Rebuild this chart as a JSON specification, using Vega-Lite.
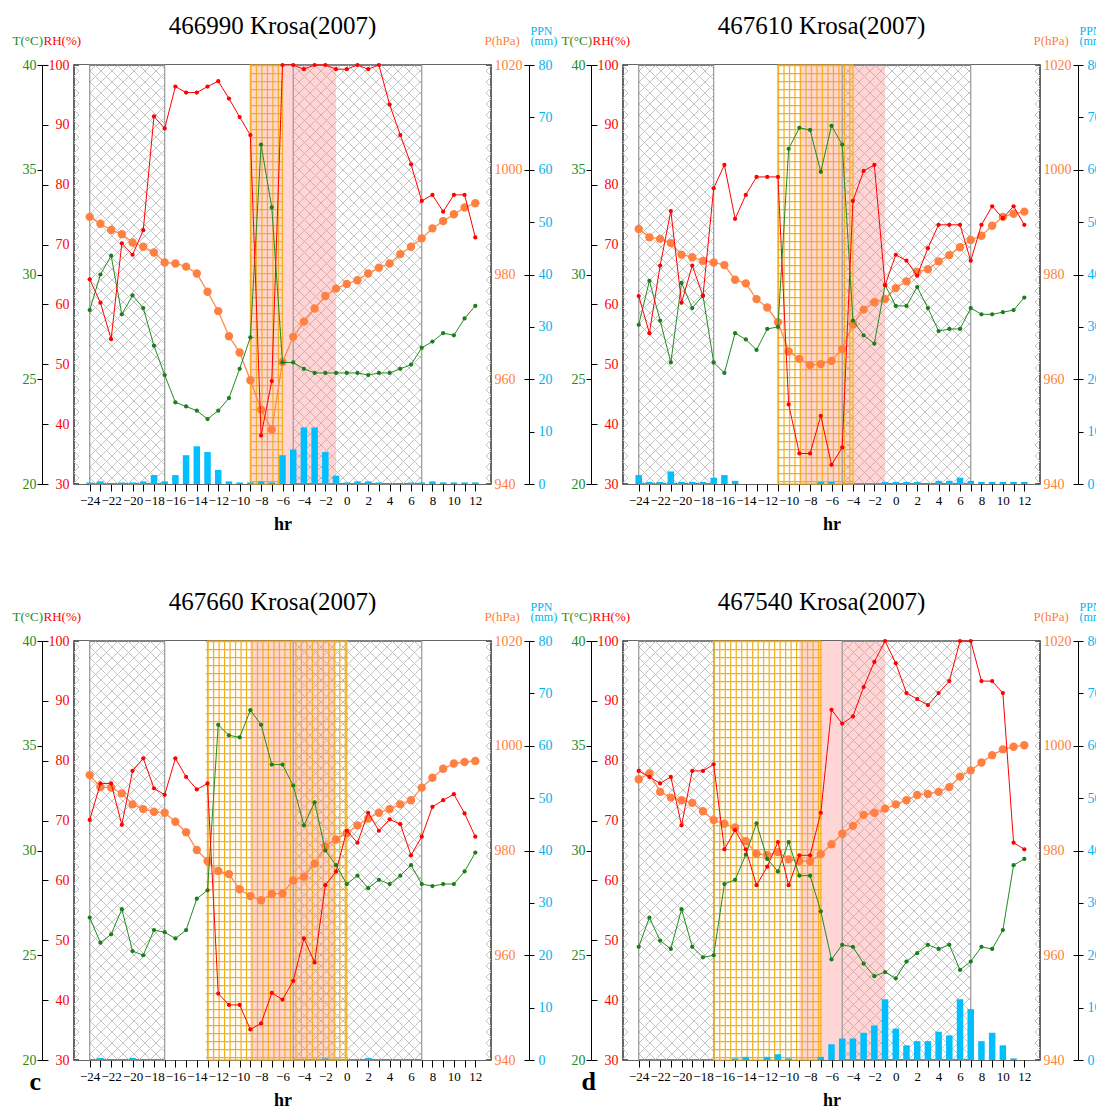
{
"$schema": "https://vega.github.io/schema/vega-lite/v6.json",
"padding": {"left": 11, "top": 12, "right": 0, "bottom": 0},
"background": "white",
"bounds": "flush",
"columns": 2,
"spacing": {"row": 157, "column": 132},
"datasets": {
"zones": [
{"kind":"clear","start":-25,"end":-24},{"kind":"clear","start":-17,"end":-5},{"kind":"clear","start":7,"end":13},
{"kind":"hatch","start":-24,"end":-17},{"kind":"hatch","start":-5,"end":7},{"kind":"pink","start":-9,"end":-1}],
"a": [
{"hr":-24,"T":28.3,"RH":64.2,"P":991.0,"PPN":0.3},{"hr":-23,"T":30.0,"RH":60.3,"P":989.7,"PPN":0.5},{"hr":-22,"T":30.9,"RH":54.2,"P":988.5,"PPN":0},{"hr":-21,"T":28.1,"RH":70.2,"P":987.7,"PPN":0.3},{"hr":-20,"T":29.0,"RH":68.3,"P":986.1,"PPN":0.3},{"hr":-19,"T":28.4,"RH":72.4,"P":985.3,"PPN":0.5},{"hr":-18,"T":26.6,"RH":91.4,"P":984.2,"PPN":1.7},{"hr":-17,"T":25.2,"RH":89.4,"P":982.3,"PPN":0.5},{"hr":-16,"T":23.9,"RH":96.4,"P":982.1,"PPN":1.7},{"hr":-15,"T":23.7,"RH":95.4,"P":981.5,"PPN":5.5},{"hr":-14,"T":23.5,"RH":95.4,"P":980.2,"PPN":7.2},{"hr":-13,"T":23.1,"RH":96.4,"P":976.7,"PPN":6.1},{"hr":-12,"T":23.5,"RH":97.3,"P":973.0,"PPN":2.7},{"hr":-11,"T":24.1,"RH":94.4,"P":968.2,"PPN":0.5},{"hr":-10,"T":25.5,"RH":91.3,"P":965.1,"PPN":0.3},{"hr":-9,"T":27.0,"RH":88.3,"P":959.8,"PPN":0.3},{"hr":-8,"T":36.2,"RH":38.1,"P":954.2,"PPN":0.5},{"hr":-7,"T":33.2,"RH":47.2,"P":950.4,"PPN":0.3},{"hr":-6,"T":25.8,"RH":100,"P":963.3,"PPN":5.5},{"hr":-5,"T":25.8,"RH":100,"P":968.1,"PPN":6.6},{"hr":-4,"T":25.5,"RH":99.3,"P":971.0,"PPN":10.8},{"hr":-3,"T":25.3,"RH":100,"P":973.5,"PPN":10.8},{"hr":-2,"T":25.3,"RH":100,"P":975.9,"PPN":6.1},{"hr":-1,"T":25.3,"RH":99.3,"P":977.3,"PPN":1.6},{"hr":0,"T":25.3,"RH":99.3,"P":978.2,"PPN":0.3},{"hr":1,"T":25.3,"RH":100,"P":978.9,"PPN":0.5},{"hr":2,"T":25.2,"RH":99.3,"P":980.2,"PPN":0.5},{"hr":3,"T":25.3,"RH":100,"P":981.3,"PPN":0.3},{"hr":4,"T":25.3,"RH":93.4,"P":982.1,"PPN":0},{"hr":5,"T":25.5,"RH":88.3,"P":983.9,"PPN":0},{"hr":6,"T":25.7,"RH":83.4,"P":985.3,"PPN":0.3},{"hr":7,"T":26.5,"RH":77.3,"P":986.9,"PPN":0.3},{"hr":8,"T":26.8,"RH":78.3,"P":988.8,"PPN":0.5},{"hr":9,"T":27.2,"RH":75.5,"P":990.2,"PPN":0.3},{"hr":10,"T":27.1,"RH":78.3,"P":991.5,"PPN":0.3},{"hr":11,"T":27.9,"RH":78.3,"P":992.8,"PPN":0.3},{"hr":12,"T":28.5,"RH":71.2,"P":993.6,"PPN":0.3}],
"b": [
{"hr":-24,"T":27.6,"RH":61.4,"P":988.7,"PPN":1.7},{"hr":-23,"T":29.7,"RH":55.2,"P":987.1,"PPN":0.4},{"hr":-22,"T":27.8,"RH":66.5,"P":986.8,"PPN":0.4},{"hr":-21,"T":25.8,"RH":75.6,"P":986.0,"PPN":2.4},{"hr":-20,"T":29.6,"RH":60.3,"P":983.8,"PPN":0.4},{"hr":-19,"T":28.4,"RH":66.5,"P":983.3,"PPN":0.4},{"hr":-18,"T":29.0,"RH":61.4,"P":982.6,"PPN":0.4},{"hr":-17,"T":25.8,"RH":79.4,"P":982.3,"PPN":1.2},{"hr":-16,"T":25.3,"RH":83.3,"P":981.8,"PPN":1.7},{"hr":-15,"T":27.2,"RH":74.3,"P":979.0,"PPN":0.6},{"hr":-14,"T":26.9,"RH":78.3,"P":978.3,"PPN":0},{"hr":-13,"T":26.4,"RH":81.3,"P":975.3,"PPN":0},{"hr":-12,"T":27.4,"RH":81.3,"P":973.7,"PPN":0},{"hr":-11,"T":27.5,"RH":81.3,"P":970.9,"PPN":0},{"hr":-10,"T":36.0,"RH":43.3,"P":965.3,"PPN":0},{"hr":-9,"T":37.0,"RH":35.1,"P":963.9,"PPN":0},{"hr":-8,"T":36.9,"RH":35.1,"P":962.7,"PPN":0},{"hr":-7,"T":34.9,"RH":41.4,"P":962.9,"PPN":0.4},{"hr":-6,"T":37.1,"RH":33.2,"P":963.5,"PPN":0.4},{"hr":-5,"T":36.2,"RH":36.1,"P":965.8,"PPN":0},{"hr":-4,"T":27.8,"RH":77.3,"P":970.5,"PPN":0},{"hr":-3,"T":27.1,"RH":82.3,"P":973.3,"PPN":0},{"hr":-2,"T":26.7,"RH":83.3,"P":974.7,"PPN":0},{"hr":-1,"T":29.5,"RH":63.2,"P":975.3,"PPN":0.4},{"hr":0,"T":28.5,"RH":68.3,"P":977.4,"PPN":0.4},{"hr":1,"T":28.5,"RH":67.3,"P":978.7,"PPN":0.4},{"hr":2,"T":29.4,"RH":64.8,"P":980.5,"PPN":0.4},{"hr":3,"T":28.4,"RH":69.4,"P":981.0,"PPN":0},{"hr":4,"T":27.3,"RH":73.3,"P":982.5,"PPN":0.6},{"hr":5,"T":27.4,"RH":73.3,"P":983.7,"PPN":0.6},{"hr":6,"T":27.4,"RH":73.3,"P":985.2,"PPN":1.2},{"hr":7,"T":28.4,"RH":67.3,"P":986.6,"PPN":0.6},{"hr":8,"T":28.1,"RH":73.3,"P":987.4,"PPN":0.4},{"hr":9,"T":28.1,"RH":76.4,"P":989.3,"PPN":0.4},{"hr":10,"T":28.2,"RH":74.4,"P":991.0,"PPN":0.4},{"hr":11,"T":28.3,"RH":76.4,"P":991.6,"PPN":0.4},{"hr":12,"T":28.9,"RH":73.3,"P":992.0,"PPN":0.4}],
"c": [
{"hr":-24,"T":26.8,"RH":70.1,"P":994.4,"PPN":0},{"hr":-23,"T":25.6,"RH":76.2,"P":992.1,"PPN":0.4},{"hr":-22,"T":26.0,"RH":76.2,"P":992.0,"PPN":0},{"hr":-21,"T":27.2,"RH":69.3,"P":990.9,"PPN":0},{"hr":-20,"T":25.2,"RH":78.3,"P":988.8,"PPN":0.4},{"hr":-19,"T":25.0,"RH":80.4,"P":987.9,"PPN":0},{"hr":-18,"T":26.2,"RH":75.4,"P":987.4,"PPN":0},{"hr":-17,"T":26.1,"RH":74.3,"P":987.2,"PPN":0},{"hr":-16,"T":25.8,"RH":80.4,"P":985.5,"PPN":0},{"hr":-15,"T":26.2,"RH":77.3,"P":983.5,"PPN":0},{"hr":-14,"T":27.7,"RH":75.2,"P":980.1,"PPN":0},{"hr":-13,"T":28.1,"RH":76.2,"P":978.0,"PPN":0},{"hr":-12,"T":36.0,"RH":41.1,"P":976.1,"PPN":0},{"hr":-11,"T":35.5,"RH":39.2,"P":975.5,"PPN":0},{"hr":-10,"T":35.4,"RH":39.2,"P":972.6,"PPN":0},{"hr":-9,"T":36.7,"RH":35.1,"P":971.3,"PPN":0},{"hr":-8,"T":36.0,"RH":36.1,"P":970.5,"PPN":0},{"hr":-7,"T":34.1,"RH":41.2,"P":971.7,"PPN":0},{"hr":-6,"T":34.1,"RH":40.1,"P":971.8,"PPN":0},{"hr":-5,"T":33.1,"RH":43.2,"P":974.3,"PPN":0},{"hr":-4,"T":31.2,"RH":50.3,"P":975.0,"PPN":0},{"hr":-3,"T":32.3,"RH":46.3,"P":977.5,"PPN":0},{"hr":-2,"T":30.0,"RH":59.2,"P":980.8,"PPN":0.3},{"hr":-1,"T":29.3,"RH":61.5,"P":982.1,"PPN":0},{"hr":0,"T":28.4,"RH":68.3,"P":983.3,"PPN":0},{"hr":1,"T":28.8,"RH":66.3,"P":984.8,"PPN":0},{"hr":2,"T":28.2,"RH":71.3,"P":986.1,"PPN":0.4},{"hr":3,"T":28.6,"RH":68.3,"P":987.2,"PPN":0.2},{"hr":4,"T":28.4,"RH":70.2,"P":987.9,"PPN":0},{"hr":5,"T":28.8,"RH":69.4,"P":988.8,"PPN":0.2},{"hr":6,"T":29.3,"RH":64.2,"P":989.6,"PPN":0},{"hr":7,"T":28.4,"RH":67.3,"P":992.0,"PPN":0},{"hr":8,"T":28.3,"RH":72.3,"P":993.9,"PPN":0},{"hr":9,"T":28.4,"RH":73.4,"P":995.6,"PPN":0},{"hr":10,"T":28.4,"RH":74.4,"P":996.6,"PPN":0},{"hr":11,"T":29.0,"RH":71.2,"P":996.9,"PPN":0},{"hr":12,"T":29.9,"RH":67.3,"P":997.1,"PPN":0}],
"d": [
{"hr":-24,"T":25.4,"RH":78.3,"P":993.6,"PPN":0},{"hr":-23,"T":26.8,"RH":77.3,"P":994.7,"PPN":0},{"hr":-22,"T":25.7,"RH":76.2,"P":991.2,"PPN":0},{"hr":-21,"T":25.3,"RH":77.3,"P":990.1,"PPN":0},{"hr":-20,"T":27.2,"RH":69.2,"P":989.6,"PPN":0},{"hr":-19,"T":25.4,"RH":78.3,"P":989.1,"PPN":0},{"hr":-18,"T":24.9,"RH":78.3,"P":987.5,"PPN":0},{"hr":-17,"T":25.0,"RH":79.4,"P":985.8,"PPN":0},{"hr":-16,"T":28.4,"RH":65.2,"P":985.1,"PPN":0},{"hr":-15,"T":28.6,"RH":68.4,"P":984.4,"PPN":0.3},{"hr":-14,"T":29.8,"RH":65.2,"P":981.8,"PPN":0.6},{"hr":-13,"T":31.3,"RH":59.2,"P":979.4,"PPN":0},{"hr":-12,"T":29.6,"RH":62.3,"P":979.1,"PPN":0.6},{"hr":-11,"T":29.0,"RH":66.4,"P":979.7,"PPN":1.1},{"hr":-10,"T":30.4,"RH":59.2,"P":978.3,"PPN":0.3},{"hr":-9,"T":28.8,"RH":64.2,"P":978.0,"PPN":0},{"hr":-8,"T":28.8,"RH":64.2,"P":977.9,"PPN":0},{"hr":-7,"T":27.1,"RH":71.3,"P":979.3,"PPN":0.6},{"hr":-6,"T":24.8,"RH":88.5,"P":981.2,"PPN":3.0},{"hr":-5,"T":25.5,"RH":86.2,"P":983.2,"PPN":4.1},{"hr":-4,"T":25.4,"RH":87.4,"P":984.7,"PPN":4.1},{"hr":-3,"T":24.6,"RH":92.3,"P":986.8,"PPN":5.2},{"hr":-2,"T":24.0,"RH":96.5,"P":987.2,"PPN":6.6},{"hr":-1,"T":24.2,"RH":100,"P":988.0,"PPN":11.6},{"hr":0,"T":23.9,"RH":96.3,"P":988.8,"PPN":6.0},{"hr":1,"T":24.7,"RH":91.3,"P":989.6,"PPN":2.8},{"hr":2,"T":25.1,"RH":90.3,"P":990.6,"PPN":3.6},{"hr":3,"T":25.5,"RH":89.3,"P":990.8,"PPN":3.6},{"hr":4,"T":25.3,"RH":91.3,"P":991.2,"PPN":5.4},{"hr":5,"T":25.5,"RH":93.3,"P":992.1,"PPN":4.7},{"hr":6,"T":24.3,"RH":100,"P":994.1,"PPN":11.6},{"hr":7,"T":24.7,"RH":100,"P":995.3,"PPN":9.7},{"hr":8,"T":25.4,"RH":93.3,"P":996.8,"PPN":3.6},{"hr":9,"T":25.3,"RH":93.3,"P":998.2,"PPN":5.2},{"hr":10,"T":26.2,"RH":91.3,"P":999.3,"PPN":2.8},{"hr":11,"T":29.3,"RH":66.3,"P":999.8,"PPN":0.3},{"hr":12,"T":29.6,"RH":65.2,"P":1000.1,"PPN":0}]
},
"concat": [
{"width": 417, "height": 419,
"layer": [
{"data": {"values": [{}]}, "mark": {"type": "point", "style": "hatch", "size": 4, "clip": true, "filled": false, "color": "#c4c4c4", "strokeWidth": 1, "opacity": 1}, "encoding": {"x": {"datum": -6, "type": "quantitative", "scale": {"domain": [-25, 13], "nice": false, "zero": false}, "axis": null}}},
{"data": {"name": "zones"}, "transform": [{"filter": "datum.kind == 'clear'"}], "mark": {"type": "rect", "color": "white", "opacity": 1}, "encoding": {"x": {"field": "start", "type": "quantitative", "scale": {"domain": [-25, 13], "nice": false, "zero": false}, "axis": null}, "x2": {"field": "end"}}},
{"data": {"name": "zones"}, "transform": [{"filter": "datum.kind == 'pink'"}], "mark": {"type": "rect", "color": "#ff8080", "opacity": 0.33}, "encoding": {"x": {"field": "start", "type": "quantitative", "scale": {"domain": [-25, 13], "nice": false, "zero": false}, "axis": null}, "x2": {"field": "end"}}},
{"data": {"values": [{"start": -9, "end": -6, "mid": -7.5}]}, "mark": {"type": "rule", "color": "#f2b01e", "strokeWidth": 440, "strokeDash": [1.2, 4.286], "clip": true}, "encoding": {"x": {"field": "start", "type": "quantitative", "scale": {"domain": [-25, 13], "nice": false, "zero": false}, "axis": {"orient": "top", "labels": false, "ticks": false, "domain": false, "title": "466990 Krosa(2007)", "titleFontSize": 25, "titleFontWeight": "normal", "titleColor": "black", "titleX": 198, "titleY": -32, "titleAlign": "center", "titleBaseline": "alphabetic", "titleAngle": 0}}, "x2": {"field": "end"}, "y": {"datum": 0, "type": "quantitative", "scale": {"domain": [-1, 1]}, "axis": null}}},
{"data": {"values": [{"start": -9, "end": -6, "mid": -7.5}]}, "mark": {"type": "rule", "color": "#f2b01e", "strokeWidth": 32.9, "strokeDash": [1.2, 6.8]}, "encoding": {"x": {"field": "mid", "type": "quantitative", "scale": {"domain": [-25, 13], "nice": false, "zero": false}, "axis": null}}},
{"data": {"name": "zones"}, "transform": [{"filter": "datum.kind == 'hatch'"}], "mark": {"type": "rect", "filled": false, "color": "#999999", "strokeWidth": 1.2}, "encoding": {"x": {"field": "start", "type": "quantitative", "scale": {"domain": [-25, 13], "nice": false, "zero": false}, "axis": null}, "x2": {"field": "end"}}},
{"data": {"values": [{"start": -9, "end": -6}]}, "mark": {"type": "rect", "filled": false, "color": "#f2b01e", "strokeWidth": 1.2}, "encoding": {"x": {"field": "start", "type": "quantitative", "scale": {"domain": [-25, 13], "nice": false, "zero": false}, "axis": null}, "x2": {"field": "end"}}},
{"data": {"name": "a"}, "mark": {"type": "bar", "color": "#00bfff", "size": 6.5}, "encoding": {"x": {"field": "hr", "type": "quantitative", "scale": {"domain": [-25, 13], "nice": false, "zero": false}, "axis": {"orient": "bottom", "values": [-24,-23,-22,-21,-20,-19,-18,-17,-16,-15,-14,-13,-12,-11,-10,-9,-8,-7,-6,-5,-4,-3,-2,-1,0,1,2,3,4,5,6,7,8,9,10,11,12], "format": "d", "labelExpr": "datum.value % 2 ? '' : datum.label", "labelOverlap": false, "labelFlush": false, "tickSize": 7, "domain": false, "labelFontSize": 13, "labelPadding": 3, "title": "hr", "titleFontSize": 18, "titleFontWeight": "bold", "titlePadding": 8}}, "y": {"field": "PPN", "type": "quantitative", "scale": {"domain": [0, 80]}, "axis": {"orient": "right", "offset": 38, "values": [0,10,20,30,40,50,60,70,80], "format": "d", "tickSize": 5, "labelColor": "#00b4f0", "labelPadding": 4, "title": ["PPN", "(mm)"], "titleColor": "#00b4f0", "titleAngle": 0, "titleAlign": "left", "titleBaseline": "alphabetic", "titleX": 1, "titleY": -31, "titleFontSize": 12, "titleLineHeight": 10}}}},
{"data": {"name": "a"}, "mark": {"type": "line", "color": "#ff8a4c", "strokeWidth": 1.3, "point": {"filled": true, "size": 70, "color": "#ff8040", "opacity": 1}}, "encoding": {"x": {"field": "hr", "type": "quantitative", "scale": {"domain": [-25, 13], "nice": false, "zero": false}, "axis": null}, "y": {"field": "P", "type": "quantitative", "scale": {"domain": [940, 1020]}, "axis": {"orient": "right", "offset": 33, "values": [940,960,980,1000,1020], "format": "d", "tickSize": 5, "domain": false, "labelColor": "#ff7f3a", "labelPadding": -35, "title": "P(hPa)", "titleColor": "#ff7f3a", "titleAngle": 0, "titleAlign": "left", "titleBaseline": "alphabetic", "titleX": -40, "titleY": -21, "titleFontSize": 13}}}},
{"data": {"name": "a"}, "mark": {"type": "line", "color": "#228b22", "strokeWidth": 1, "point": {"filled": true, "size": 18, "color": "#1a7f1a", "opacity": 1}}, "encoding": {"x": {"field": "hr", "type": "quantitative", "scale": {"domain": [-25, 13], "nice": false, "zero": false}, "axis": null}, "y": {"field": "T", "type": "quantitative", "scale": {"domain": [20, 40]}, "axis": {"orient": "left", "offset": 32, "values": [20,25,30,35,40], "format": "d", "tickSize": 5, "labelColor": "#228b22", "labelPadding": 1, "title": "T(°C)", "titleColor": "#228b22", "titleAngle": 0, "titleAlign": "left", "titleBaseline": "alphabetic", "titleX": -30, "titleY": -21, "titleFontSize": 13}}}},
{"data": {"name": "a"}, "mark": {"type": "line", "color": "#ff0000", "strokeWidth": 1, "point": {"filled": true, "size": 18, "color": "#ff0000", "opacity": 1}}, "encoding": {"x": {"field": "hr", "type": "quantitative", "scale": {"domain": [-25, 13], "nice": false, "zero": false}, "axis": null}, "y": {"field": "RH", "type": "quantitative", "scale": {"domain": [30, 100]}, "axis": {"orient": "left", "offset": 26, "values": [30,40,50,60,70,80,90,100], "format": "d", "tickSize": 6, "domain": false, "labelColor": "#ff0000", "labelPadding": -27, "title": "RH(%)", "titleColor": "#ff0000", "titleAngle": 0, "titleAlign": "left", "titleBaseline": "alphabetic", "titleX": -5, "titleY": -21, "titleFontSize": 13}}}}
],
"resolve": {"scale": {"y": "independent"}, "axis": {"x": "independent", "y": "independent"}}},
{"width": 417, "height": 419,
"layer": [
{"data": {"values": [{}]}, "mark": {"type": "point", "style": "hatch", "size": 4, "clip": true, "filled": false, "color": "#c4c4c4", "strokeWidth": 1, "opacity": 1}, "encoding": {"x": {"datum": -6, "type": "quantitative", "scale": {"domain": [-25, 13], "nice": false, "zero": false}, "axis": null}}},
{"data": {"name": "zones"}, "transform": [{"filter": "datum.kind == 'clear'"}], "mark": {"type": "rect", "color": "white", "opacity": 1}, "encoding": {"x": {"field": "start", "type": "quantitative", "scale": {"domain": [-25, 13], "nice": false, "zero": false}, "axis": null}, "x2": {"field": "end"}}},
{"data": {"name": "zones"}, "transform": [{"filter": "datum.kind == 'pink'"}], "mark": {"type": "rect", "color": "#ff8080", "opacity": 0.33}, "encoding": {"x": {"field": "start", "type": "quantitative", "scale": {"domain": [-25, 13], "nice": false, "zero": false}, "axis": null}, "x2": {"field": "end"}}},
{"data": {"values": [{"start": -11, "end": -4, "mid": -7.5}]}, "mark": {"type": "rule", "color": "#f2b01e", "strokeWidth": 440, "strokeDash": [1.2, 4.286], "clip": true}, "encoding": {"x": {"field": "start", "type": "quantitative", "scale": {"domain": [-25, 13], "nice": false, "zero": false}, "axis": {"orient": "top", "labels": false, "ticks": false, "domain": false, "title": "467610 Krosa(2007)", "titleFontSize": 25, "titleFontWeight": "normal", "titleColor": "black", "titleX": 198, "titleY": -32, "titleAlign": "center", "titleBaseline": "alphabetic", "titleAngle": 0}}, "x2": {"field": "end"}, "y": {"datum": 0, "type": "quantitative", "scale": {"domain": [-1, 1]}, "axis": null}}},
{"data": {"values": [{"start": -11, "end": -4, "mid": -7.5}]}, "mark": {"type": "rule", "color": "#f2b01e", "strokeWidth": 76.8, "strokeDash": [1.2, 6.8]}, "encoding": {"x": {"field": "mid", "type": "quantitative", "scale": {"domain": [-25, 13], "nice": false, "zero": false}, "axis": null}}},
{"data": {"name": "zones"}, "transform": [{"filter": "datum.kind == 'hatch'"}], "mark": {"type": "rect", "filled": false, "color": "#999999", "strokeWidth": 1.2}, "encoding": {"x": {"field": "start", "type": "quantitative", "scale": {"domain": [-25, 13], "nice": false, "zero": false}, "axis": null}, "x2": {"field": "end"}}},
{"data": {"values": [{"start": -11, "end": -4}]}, "mark": {"type": "rect", "filled": false, "color": "#f2b01e", "strokeWidth": 1.2}, "encoding": {"x": {"field": "start", "type": "quantitative", "scale": {"domain": [-25, 13], "nice": false, "zero": false}, "axis": null}, "x2": {"field": "end"}}},
{"data": {"name": "b"}, "mark": {"type": "bar", "color": "#00bfff", "size": 6.5}, "encoding": {"x": {"field": "hr", "type": "quantitative", "scale": {"domain": [-25, 13], "nice": false, "zero": false}, "axis": {"orient": "bottom", "values": [-24,-23,-22,-21,-20,-19,-18,-17,-16,-15,-14,-13,-12,-11,-10,-9,-8,-7,-6,-5,-4,-3,-2,-1,0,1,2,3,4,5,6,7,8,9,10,11,12], "format": "d", "labelExpr": "datum.value % 2 ? '' : datum.label", "labelOverlap": false, "labelFlush": false, "tickSize": 7, "domain": false, "labelFontSize": 13, "labelPadding": 3, "title": "hr", "titleFontSize": 18, "titleFontWeight": "bold", "titlePadding": 8}}, "y": {"field": "PPN", "type": "quantitative", "scale": {"domain": [0, 80]}, "axis": {"orient": "right", "offset": 38, "values": [0,10,20,30,40,50,60,70,80], "format": "d", "tickSize": 5, "labelColor": "#00b4f0", "labelPadding": 4, "title": ["PPN", "(mm)"], "titleColor": "#00b4f0", "titleAngle": 0, "titleAlign": "left", "titleBaseline": "alphabetic", "titleX": 1, "titleY": -31, "titleFontSize": 12, "titleLineHeight": 10}}}},
{"data": {"name": "b"}, "mark": {"type": "line", "color": "#ff8a4c", "strokeWidth": 1.3, "point": {"filled": true, "size": 70, "color": "#ff8040", "opacity": 1}}, "encoding": {"x": {"field": "hr", "type": "quantitative", "scale": {"domain": [-25, 13], "nice": false, "zero": false}, "axis": null}, "y": {"field": "P", "type": "quantitative", "scale": {"domain": [940, 1020]}, "axis": {"orient": "right", "offset": 33, "values": [940,960,980,1000,1020], "format": "d", "tickSize": 5, "domain": false, "labelColor": "#ff7f3a", "labelPadding": -35, "title": "P(hPa)", "titleColor": "#ff7f3a", "titleAngle": 0, "titleAlign": "left", "titleBaseline": "alphabetic", "titleX": -40, "titleY": -21, "titleFontSize": 13}}}},
{"data": {"name": "b"}, "mark": {"type": "line", "color": "#228b22", "strokeWidth": 1, "point": {"filled": true, "size": 18, "color": "#1a7f1a", "opacity": 1}}, "encoding": {"x": {"field": "hr", "type": "quantitative", "scale": {"domain": [-25, 13], "nice": false, "zero": false}, "axis": null}, "y": {"field": "T", "type": "quantitative", "scale": {"domain": [20, 40]}, "axis": {"orient": "left", "offset": 32, "values": [20,25,30,35,40], "format": "d", "tickSize": 5, "labelColor": "#228b22", "labelPadding": 1, "title": "T(°C)", "titleColor": "#228b22", "titleAngle": 0, "titleAlign": "left", "titleBaseline": "alphabetic", "titleX": -30, "titleY": -21, "titleFontSize": 13}}}},
{"data": {"name": "b"}, "mark": {"type": "line", "color": "#ff0000", "strokeWidth": 1, "point": {"filled": true, "size": 18, "color": "#ff0000", "opacity": 1}}, "encoding": {"x": {"field": "hr", "type": "quantitative", "scale": {"domain": [-25, 13], "nice": false, "zero": false}, "axis": null}, "y": {"field": "RH", "type": "quantitative", "scale": {"domain": [30, 100]}, "axis": {"orient": "left", "offset": 26, "values": [30,40,50,60,70,80,90,100], "format": "d", "tickSize": 6, "domain": false, "labelColor": "#ff0000", "labelPadding": -27, "title": "RH(%)", "titleColor": "#ff0000", "titleAngle": 0, "titleAlign": "left", "titleBaseline": "alphabetic", "titleX": -5, "titleY": -21, "titleFontSize": 13}}}}
],
"resolve": {"scale": {"y": "independent"}, "axis": {"x": "independent", "y": "independent"}}},
{"width": 417, "height": 419,
"layer": [
{"data": {"values": [{}]}, "mark": {"type": "point", "style": "hatch", "size": 4, "clip": true, "filled": false, "color": "#c4c4c4", "strokeWidth": 1, "opacity": 1}, "encoding": {"x": {"datum": -6, "type": "quantitative", "scale": {"domain": [-25, 13], "nice": false, "zero": false}, "axis": {"orient": "bottom", "labels": false, "ticks": false, "domain": false, "title": "c", "titleFontSize": 26, "titleFontWeight": "bold", "titleColor": "black", "titleX": -45, "titleY": 29, "titleAlign": "left", "titleBaseline": "alphabetic", "titleAngle": 0}}}},
{"data": {"name": "zones"}, "transform": [{"filter": "datum.kind == 'clear'"}], "mark": {"type": "rect", "color": "white", "opacity": 1}, "encoding": {"x": {"field": "start", "type": "quantitative", "scale": {"domain": [-25, 13], "nice": false, "zero": false}, "axis": null}, "x2": {"field": "end"}}},
{"data": {"name": "zones"}, "transform": [{"filter": "datum.kind == 'pink'"}], "mark": {"type": "rect", "color": "#ff8080", "opacity": 0.33}, "encoding": {"x": {"field": "start", "type": "quantitative", "scale": {"domain": [-25, 13], "nice": false, "zero": false}, "axis": null}, "x2": {"field": "end"}}},
{"data": {"values": [{"start": -13, "end": 0, "mid": -6.5}]}, "mark": {"type": "rule", "color": "#f2b01e", "strokeWidth": 440, "strokeDash": [1.2, 4.286], "clip": true}, "encoding": {"x": {"field": "start", "type": "quantitative", "scale": {"domain": [-25, 13], "nice": false, "zero": false}, "axis": {"orient": "top", "labels": false, "ticks": false, "domain": false, "title": "467660 Krosa(2007)", "titleFontSize": 25, "titleFontWeight": "normal", "titleColor": "black", "titleX": 198, "titleY": -32, "titleAlign": "center", "titleBaseline": "alphabetic", "titleAngle": 0}}, "x2": {"field": "end"}, "y": {"datum": 0, "type": "quantitative", "scale": {"domain": [-1, 1]}, "axis": null}}},
{"data": {"values": [{"start": -13, "end": 0, "mid": -6.5}]}, "mark": {"type": "rule", "color": "#f2b01e", "strokeWidth": 142.7, "strokeDash": [1.2, 6.8]}, "encoding": {"x": {"field": "mid", "type": "quantitative", "scale": {"domain": [-25, 13], "nice": false, "zero": false}, "axis": null}}},
{"data": {"name": "zones"}, "transform": [{"filter": "datum.kind == 'hatch'"}], "mark": {"type": "rect", "filled": false, "color": "#999999", "strokeWidth": 1.2}, "encoding": {"x": {"field": "start", "type": "quantitative", "scale": {"domain": [-25, 13], "nice": false, "zero": false}, "axis": null}, "x2": {"field": "end"}}},
{"data": {"values": [{"start": -13, "end": 0}]}, "mark": {"type": "rect", "filled": false, "color": "#f2b01e", "strokeWidth": 1.2}, "encoding": {"x": {"field": "start", "type": "quantitative", "scale": {"domain": [-25, 13], "nice": false, "zero": false}, "axis": null}, "x2": {"field": "end"}}},
{"data": {"name": "c"}, "mark": {"type": "bar", "color": "#00bfff", "size": 6.5}, "encoding": {"x": {"field": "hr", "type": "quantitative", "scale": {"domain": [-25, 13], "nice": false, "zero": false}, "axis": {"orient": "bottom", "values": [-24,-23,-22,-21,-20,-19,-18,-17,-16,-15,-14,-13,-12,-11,-10,-9,-8,-7,-6,-5,-4,-3,-2,-1,0,1,2,3,4,5,6,7,8,9,10,11,12], "format": "d", "labelExpr": "datum.value % 2 ? '' : datum.label", "labelOverlap": false, "labelFlush": false, "tickSize": 7, "domain": false, "labelFontSize": 13, "labelPadding": 3, "title": "hr", "titleFontSize": 18, "titleFontWeight": "bold", "titlePadding": 8}}, "y": {"field": "PPN", "type": "quantitative", "scale": {"domain": [0, 80]}, "axis": {"orient": "right", "offset": 38, "values": [0,10,20,30,40,50,60,70,80], "format": "d", "tickSize": 5, "labelColor": "#00b4f0", "labelPadding": 4, "title": ["PPN", "(mm)"], "titleColor": "#00b4f0", "titleAngle": 0, "titleAlign": "left", "titleBaseline": "alphabetic", "titleX": 1, "titleY": -31, "titleFontSize": 12, "titleLineHeight": 10}}}},
{"data": {"name": "c"}, "mark": {"type": "line", "color": "#ff8a4c", "strokeWidth": 1.3, "point": {"filled": true, "size": 70, "color": "#ff8040", "opacity": 1}}, "encoding": {"x": {"field": "hr", "type": "quantitative", "scale": {"domain": [-25, 13], "nice": false, "zero": false}, "axis": null}, "y": {"field": "P", "type": "quantitative", "scale": {"domain": [940, 1020]}, "axis": {"orient": "right", "offset": 33, "values": [940,960,980,1000,1020], "format": "d", "tickSize": 5, "domain": false, "labelColor": "#ff7f3a", "labelPadding": -35, "title": "P(hPa)", "titleColor": "#ff7f3a", "titleAngle": 0, "titleAlign": "left", "titleBaseline": "alphabetic", "titleX": -40, "titleY": -21, "titleFontSize": 13}}}},
{"data": {"name": "c"}, "mark": {"type": "line", "color": "#228b22", "strokeWidth": 1, "point": {"filled": true, "size": 18, "color": "#1a7f1a", "opacity": 1}}, "encoding": {"x": {"field": "hr", "type": "quantitative", "scale": {"domain": [-25, 13], "nice": false, "zero": false}, "axis": null}, "y": {"field": "T", "type": "quantitative", "scale": {"domain": [20, 40]}, "axis": {"orient": "left", "offset": 32, "values": [20,25,30,35,40], "format": "d", "tickSize": 5, "labelColor": "#228b22", "labelPadding": 1, "title": "T(°C)", "titleColor": "#228b22", "titleAngle": 0, "titleAlign": "left", "titleBaseline": "alphabetic", "titleX": -30, "titleY": -21, "titleFontSize": 13}}}},
{"data": {"name": "c"}, "mark": {"type": "line", "color": "#ff0000", "strokeWidth": 1, "point": {"filled": true, "size": 18, "color": "#ff0000", "opacity": 1}}, "encoding": {"x": {"field": "hr", "type": "quantitative", "scale": {"domain": [-25, 13], "nice": false, "zero": false}, "axis": null}, "y": {"field": "RH", "type": "quantitative", "scale": {"domain": [30, 100]}, "axis": {"orient": "left", "offset": 26, "values": [30,40,50,60,70,80,90,100], "format": "d", "tickSize": 6, "domain": false, "labelColor": "#ff0000", "labelPadding": -27, "title": "RH(%)", "titleColor": "#ff0000", "titleAngle": 0, "titleAlign": "left", "titleBaseline": "alphabetic", "titleX": -5, "titleY": -21, "titleFontSize": 13}}}}
],
"resolve": {"scale": {"y": "independent"}, "axis": {"x": "independent", "y": "independent"}}},
{"width": 417, "height": 419,
"layer": [
{"data": {"values": [{}]}, "mark": {"type": "point", "style": "hatch", "size": 4, "clip": true, "filled": false, "color": "#c4c4c4", "strokeWidth": 1, "opacity": 1}, "encoding": {"x": {"datum": -6, "type": "quantitative", "scale": {"domain": [-25, 13], "nice": false, "zero": false}, "axis": {"orient": "bottom", "labels": false, "ticks": false, "domain": false, "title": "d", "titleFontSize": 26, "titleFontWeight": "bold", "titleColor": "black", "titleX": -42, "titleY": 29, "titleAlign": "left", "titleBaseline": "alphabetic", "titleAngle": 0}}}},
{"data": {"name": "zones"}, "transform": [{"filter": "datum.kind == 'clear'"}], "mark": {"type": "rect", "color": "white", "opacity": 1}, "encoding": {"x": {"field": "start", "type": "quantitative", "scale": {"domain": [-25, 13], "nice": false, "zero": false}, "axis": null}, "x2": {"field": "end"}}},
{"data": {"name": "zones"}, "transform": [{"filter": "datum.kind == 'pink'"}], "mark": {"type": "rect", "color": "#ff8080", "opacity": 0.33}, "encoding": {"x": {"field": "start", "type": "quantitative", "scale": {"domain": [-25, 13], "nice": false, "zero": false}, "axis": null}, "x2": {"field": "end"}}},
{"data": {"values": [{"start": -17, "end": -7, "mid": -12}]}, "mark": {"type": "rule", "color": "#f2b01e", "strokeWidth": 440, "strokeDash": [1.2, 4.286], "clip": true}, "encoding": {"x": {"field": "start", "type": "quantitative", "scale": {"domain": [-25, 13], "nice": false, "zero": false}, "axis": {"orient": "top", "labels": false, "ticks": false, "domain": false, "title": "467540 Krosa(2007)", "titleFontSize": 25, "titleFontWeight": "normal", "titleColor": "black", "titleX": 198, "titleY": -32, "titleAlign": "center", "titleBaseline": "alphabetic", "titleAngle": 0}}, "x2": {"field": "end"}, "y": {"datum": 0, "type": "quantitative", "scale": {"domain": [-1, 1]}, "axis": null}}},
{"data": {"values": [{"start": -17, "end": -7, "mid": -12}]}, "mark": {"type": "rule", "color": "#f2b01e", "strokeWidth": 109.7, "strokeDash": [1.2, 6.8]}, "encoding": {"x": {"field": "mid", "type": "quantitative", "scale": {"domain": [-25, 13], "nice": false, "zero": false}, "axis": null}}},
{"data": {"name": "zones"}, "transform": [{"filter": "datum.kind == 'hatch'"}], "mark": {"type": "rect", "filled": false, "color": "#999999", "strokeWidth": 1.2}, "encoding": {"x": {"field": "start", "type": "quantitative", "scale": {"domain": [-25, 13], "nice": false, "zero": false}, "axis": null}, "x2": {"field": "end"}}},
{"data": {"values": [{"start": -17, "end": -7}]}, "mark": {"type": "rect", "filled": false, "color": "#f2b01e", "strokeWidth": 1.2}, "encoding": {"x": {"field": "start", "type": "quantitative", "scale": {"domain": [-25, 13], "nice": false, "zero": false}, "axis": null}, "x2": {"field": "end"}}},
{"data": {"name": "d"}, "mark": {"type": "bar", "color": "#00bfff", "size": 6.5}, "encoding": {"x": {"field": "hr", "type": "quantitative", "scale": {"domain": [-25, 13], "nice": false, "zero": false}, "axis": {"orient": "bottom", "values": [-24,-23,-22,-21,-20,-19,-18,-17,-16,-15,-14,-13,-12,-11,-10,-9,-8,-7,-6,-5,-4,-3,-2,-1,0,1,2,3,4,5,6,7,8,9,10,11,12], "format": "d", "labelExpr": "datum.value % 2 ? '' : datum.label", "labelOverlap": false, "labelFlush": false, "tickSize": 7, "domain": false, "labelFontSize": 13, "labelPadding": 3, "title": "hr", "titleFontSize": 18, "titleFontWeight": "bold", "titlePadding": 8}}, "y": {"field": "PPN", "type": "quantitative", "scale": {"domain": [0, 80]}, "axis": {"orient": "right", "offset": 38, "values": [0,10,20,30,40,50,60,70,80], "format": "d", "tickSize": 5, "labelColor": "#00b4f0", "labelPadding": 4, "title": ["PPN", "(mm)"], "titleColor": "#00b4f0", "titleAngle": 0, "titleAlign": "left", "titleBaseline": "alphabetic", "titleX": 1, "titleY": -31, "titleFontSize": 12, "titleLineHeight": 10}}}},
{"data": {"name": "d"}, "mark": {"type": "line", "color": "#ff8a4c", "strokeWidth": 1.3, "point": {"filled": true, "size": 70, "color": "#ff8040", "opacity": 1}}, "encoding": {"x": {"field": "hr", "type": "quantitative", "scale": {"domain": [-25, 13], "nice": false, "zero": false}, "axis": null}, "y": {"field": "P", "type": "quantitative", "scale": {"domain": [940, 1020]}, "axis": {"orient": "right", "offset": 33, "values": [940,960,980,1000,1020], "format": "d", "tickSize": 5, "domain": false, "labelColor": "#ff7f3a", "labelPadding": -35, "title": "P(hPa)", "titleColor": "#ff7f3a", "titleAngle": 0, "titleAlign": "left", "titleBaseline": "alphabetic", "titleX": -40, "titleY": -21, "titleFontSize": 13}}}},
{"data": {"name": "d"}, "mark": {"type": "line", "color": "#228b22", "strokeWidth": 1, "point": {"filled": true, "size": 18, "color": "#1a7f1a", "opacity": 1}}, "encoding": {"x": {"field": "hr", "type": "quantitative", "scale": {"domain": [-25, 13], "nice": false, "zero": false}, "axis": null}, "y": {"field": "T", "type": "quantitative", "scale": {"domain": [20, 40]}, "axis": {"orient": "left", "offset": 32, "values": [20,25,30,35,40], "format": "d", "tickSize": 5, "labelColor": "#228b22", "labelPadding": 1, "title": "T(°C)", "titleColor": "#228b22", "titleAngle": 0, "titleAlign": "left", "titleBaseline": "alphabetic", "titleX": -30, "titleY": -21, "titleFontSize": 13}}}},
{"data": {"name": "d"}, "mark": {"type": "line", "color": "#ff0000", "strokeWidth": 1, "point": {"filled": true, "size": 18, "color": "#ff0000", "opacity": 1}}, "encoding": {"x": {"field": "hr", "type": "quantitative", "scale": {"domain": [-25, 13], "nice": false, "zero": false}, "axis": null}, "y": {"field": "RH", "type": "quantitative", "scale": {"domain": [30, 100]}, "axis": {"orient": "left", "offset": 26, "values": [30,40,50,60,70,80,90,100], "format": "d", "tickSize": 6, "domain": false, "labelColor": "#ff0000", "labelPadding": -27, "title": "RH(%)", "titleColor": "#ff0000", "titleAngle": 0, "titleAlign": "left", "titleBaseline": "alphabetic", "titleX": -5, "titleY": -21, "titleFontSize": 13}}}}
],
"resolve": {"scale": {"y": "independent"}, "axis": {"x": "independent", "y": "independent"}}}
],
"config": {
"view": {"stroke": "#333333", "strokeWidth": 1.5},
"axis": {"grid": false, "labelFont": "Liberation Serif", "titleFont": "Liberation Serif", "labelFontSize": 14, "titleFontWeight": "normal", "tickColor": "black", "domainColor": "black", "labelColor": "black"},
"style": {"hatch": {"shape": "M-940 -500l1000 1000M-929 -500l1000 1000M-918 -500l1000 1000M-907 -500l1000 1000M-896 -500l1000 1000M-885 -500l1000 1000M-874 -500l1000 1000M-863 -500l1000 1000M-852 -500l1000 1000M-841 -500l1000 1000M-830 -500l1000 1000M-819 -500l1000 1000M-808 -500l1000 1000M-797 -500l1000 1000M-786 -500l1000 1000M-775 -500l1000 1000M-764 -500l1000 1000M-753 -500l1000 1000M-742 -500l1000 1000M-731 -500l1000 1000M-720 -500l1000 1000M-709 -500l1000 1000M-698 -500l1000 1000M-687 -500l1000 1000M-676 -500l1000 1000M-665 -500l1000 1000M-654 -500l1000 1000M-643 -500l1000 1000M-632 -500l1000 1000M-621 -500l1000 1000M-610 -500l1000 1000M-599 -500l1000 1000M-588 -500l1000 1000M-577 -500l1000 1000M-566 -500l1000 1000M-555 -500l1000 1000M-544 -500l1000 1000M-533 -500l1000 1000M-522 -500l1000 1000M-511 -500l1000 1000M-500 -500l1000 1000M-489 -500l1000 1000M-478 -500l1000 1000M-467 -500l1000 1000M-456 -500l1000 1000M-445 -500l1000 1000M-434 -500l1000 1000M-423 -500l1000 1000M-412 -500l1000 1000M-401 -500l1000 1000M-390 -500l1000 1000M-379 -500l1000 1000M-368 -500l1000 1000M-357 -500l1000 1000M-346 -500l1000 1000M-335 -500l1000 1000M-324 -500l1000 1000M-313 -500l1000 1000M-302 -500l1000 1000M-291 -500l1000 1000M-280 -500l1000 1000M-269 -500l1000 1000M-258 -500l1000 1000M-247 -500l1000 1000M-236 -500l1000 1000M-225 -500l1000 1000M-214 -500l1000 1000M-203 -500l1000 1000M-192 -500l1000 1000M-181 -500l1000 1000M-170 -500l1000 1000M-159 -500l1000 1000M-148 -500l1000 1000M-137 -500l1000 1000M-126 -500l1000 1000M-115 -500l1000 1000M-104 -500l1000 1000M-93 -500l1000 1000M-82 -500l1000 1000M-71 -500l1000 1000M-60 -500l1000 1000M60 -500l-1000 1000M71 -500l-1000 1000M82 -500l-1000 1000M93 -500l-1000 1000M104 -500l-1000 1000M115 -500l-1000 1000M126 -500l-1000 1000M137 -500l-1000 1000M148 -500l-1000 1000M159 -500l-1000 1000M170 -500l-1000 1000M181 -500l-1000 1000M192 -500l-1000 1000M203 -500l-1000 1000M214 -500l-1000 1000M225 -500l-1000 1000M236 -500l-1000 1000M247 -500l-1000 1000M258 -500l-1000 1000M269 -500l-1000 1000M280 -500l-1000 1000M291 -500l-1000 1000M302 -500l-1000 1000M313 -500l-1000 1000M324 -500l-1000 1000M335 -500l-1000 1000M346 -500l-1000 1000M357 -500l-1000 1000M368 -500l-1000 1000M379 -500l-1000 1000M390 -500l-1000 1000M401 -500l-1000 1000M412 -500l-1000 1000M423 -500l-1000 1000M434 -500l-1000 1000M445 -500l-1000 1000M456 -500l-1000 1000M467 -500l-1000 1000M478 -500l-1000 1000M489 -500l-1000 1000M500 -500l-1000 1000M511 -500l-1000 1000M522 -500l-1000 1000M533 -500l-1000 1000M544 -500l-1000 1000M555 -500l-1000 1000M566 -500l-1000 1000M577 -500l-1000 1000M588 -500l-1000 1000M599 -500l-1000 1000M610 -500l-1000 1000M621 -500l-1000 1000M632 -500l-1000 1000M643 -500l-1000 1000M654 -500l-1000 1000M665 -500l-1000 1000M676 -500l-1000 1000M687 -500l-1000 1000M698 -500l-1000 1000M709 -500l-1000 1000M720 -500l-1000 1000M731 -500l-1000 1000M742 -500l-1000 1000M753 -500l-1000 1000M764 -500l-1000 1000M775 -500l-1000 1000M786 -500l-1000 1000M797 -500l-1000 1000M808 -500l-1000 1000M819 -500l-1000 1000M830 -500l-1000 1000M841 -500l-1000 1000M852 -500l-1000 1000M863 -500l-1000 1000M874 -500l-1000 1000M885 -500l-1000 1000M896 -500l-1000 1000M907 -500l-1000 1000M918 -500l-1000 1000M929 -500l-1000 1000M940 -500l-1000 1000"}}
}
}
